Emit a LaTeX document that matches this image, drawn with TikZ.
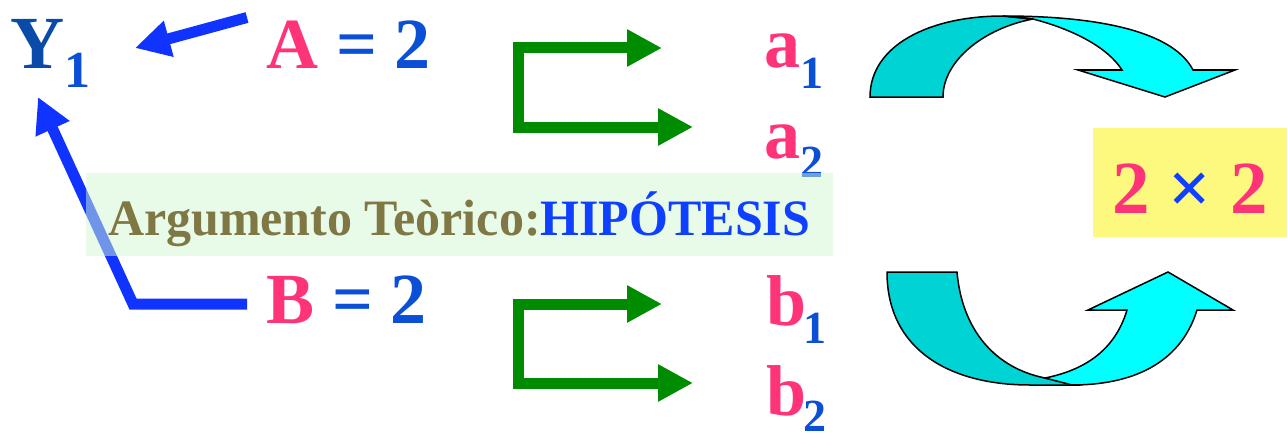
\documentclass[tikz,border=0pt]{standalone}
\usepackage{fontspec}
\setmainfont{Liberation Serif}
\usetikzlibrary{arrows.meta}
\definecolor{pinkc}{HTML}{FF3377}
\definecolor{eqblue}{HTML}{0A4FD5}
\definecolor{yblue}{HTML}{0A4AA8}
\definecolor{arrblue}{HTML}{1033FF}
\definecolor{hipblue}{HTML}{1040FF}
\definecolor{olive}{HTML}{807844}
\definecolor{arrgreen}{HTML}{008C00}
\definecolor{boxgreen}{HTML}{D1F5D1}
\definecolor{boxyellow}{HTML}{FDF97E}
\definecolor{cyandark}{HTML}{00D3D3}
\definecolor{cyanlight}{HTML}{00FFFF}
\tikzset{
  lbl/.style={anchor=base west, inner sep=0pt, outer sep=0pt, font=\bfseries},
  bluearrow/.style={draw=arrblue, line width=11pt, line join=miter, -{Triangle[length=35pt,width=35pt]}},
  greenarrow/.style={draw=arrgreen, line width=11pt, line join=miter, {Triangle[length=35pt,width=35pt]}-{Triangle[length=35pt,width=35pt]}},
  curvearrow/.style={draw=black, line width=1.5pt, line join=miter},
}
\newcommand{\fs}[1]{\fontsize{#1}{#1}\selectfont}
\begin{document}
\begin{tikzpicture}[x=1pt,y=-1pt]
\useasboundingbox (0,0) rectangle (1287,436);

% labels
\node[lbl, text=yblue] (Y) at (10,69) {\fs{75}Y\raisebox{-19pt}{\color{eqblue}\fs{52}1}};
\node[lbl] (A) at (266,68) {\fs{72}\color{pinkc}A \color{eqblue}= 2};
\node[lbl] (B) at (266,323) {\fs{72}\color{pinkc}B \color{eqblue}= 2};

\node[lbl, text=pinkc] (a1) at (764,67) {\fs{72}a\raisebox{-21pt}{\color{eqblue}\fs{46}1}};
\node[lbl, text=pinkc] (a2) at (764,158) {\fs{72}a\raisebox{-19pt}{\color{eqblue}\fs{46}2}};
\node[lbl, text=pinkc] (b1) at (766,325) {\fs{72}b\kern-3pt\raisebox{-18pt}{\color{eqblue}\fs{46}1}};
\node[lbl, text=pinkc] (b2) at (766,415) {\fs{72}b\kern-3pt\raisebox{-16pt}[0pt][0pt]{\color{eqblue}\fs{46}2}};

% blue arrows
\coordinate (Astart) at (247,17.5);
\coordinate (Atip) at (135,48);
\draw[bluearrow] (Astart) -- (Atip);
\coordinate (Bstart) at (247,304);
\coordinate (Bcorner) at (133,304);
\coordinate (Ytip) at (38,97);
\draw[bluearrow] (Bstart) -- (Bcorner) -- (Ytip);

% green arrows
\coordinate (ga1) at (662,48);
\coordinate (ga2) at (693,127);
\coordinate (gac1) at (518,48);
\coordinate (gac2) at (518,127);
\draw[greenarrow] (ga1) -- (gac1) -- (gac2) -- (ga2);
\coordinate (gb1) at (662,304);
\coordinate (gb2) at (693,383);
\coordinate (gbc1) at (518,304);
\coordinate (gbc2) at (518,383);
\draw[greenarrow] (gb1) -- (gbc1) -- (gbc2) -- (gb2);

% semi-transparent hypothesis box
\node[fill=boxgreen, fill opacity=0.5, inner sep=0pt, minimum width=747pt, minimum height=83pt] (hypbox) at (459.5,214.5) {};
\node[lbl] (hyp) at (108,235) {\scalebox{0.98}[1]{\fs{51}\color{olive}Argumento Teòrico:\color{hipblue}HIPÓTESIS}};

% 2x2 box
\node[fill=boxyellow, inner sep=0pt, minimum width=194pt, minimum height=109pt] (twobox) at (1190,182.5) {};
\node[anchor=base, inner sep=0pt, font=\bfseries] (twotxt) at (1190,213) {\fs{75}\color{pinkc}2 \color{hipblue}× \color{pinkc}2};

% top curved arrow
\draw[curvearrow, fill=cyandark] (870,97) .. controls (870,45) and (930,16) .. (1003,16)
  -- (1033,19) .. controls (985,28) and (943,60) .. (943,97) -- cycle;
\draw[curvearrow, fill=cyanlight] (1003,16) .. controls (1110,16) and (1175,35) .. (1193,70)
  -- (1235,70) -- (1165,97) -- (1078,70) -- (1122,70)
  .. controls (1108,48) and (1075,30) .. (1033,19) -- cycle;

% bottom curved arrow
\draw[curvearrow, fill=cyandark] (887,272) -- (957,272) .. controls (962,330) and (995,368) .. (1045,378)
  -- (1075,385) -- (1030,385) .. controls (950,385) and (887,350) .. (887,272) -- cycle;
\draw[curvearrow, fill=cyanlight] (1045,378) .. controls (1085,370) and (1115,350) .. (1127,310)
  -- (1088,310) -- (1168,272) -- (1233,310) -- (1197,310)
  .. controls (1180,365) and (1130,385) .. (1072,385) -- cycle;
\end{tikzpicture}
\end{document}
